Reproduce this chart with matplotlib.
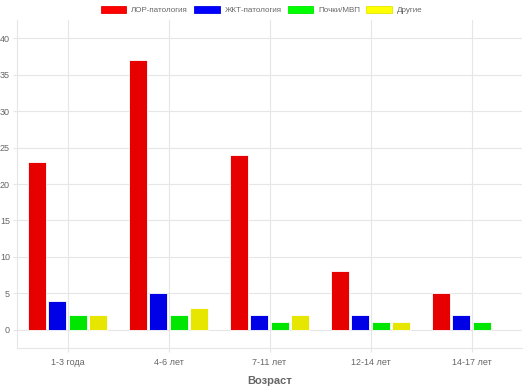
import numpy as np
import matplotlib.pyplot as plt
from matplotlib.patches import Patch

plt.rcParams['font.family'] = ['Liberation Sans', 'DejaVu Sans']

ages = ['1-3 года', '4-6 лет', '7-11 лет', '12-14 лет', '14-17 лет']
series_names = ['ЛОР-патология', 'ЖКТ-патология', 'Почки/МВП', 'Другие']
lor = [23, 37, 24, 8, 5]
gkt = [4, 5, 2, 2, 2]
kidney = [2, 2, 1, 1, 1]
other = [2, 3, 2, 1, 0]

bar_colors = ['#e60000', '#0000e6', '#00e600', '#e6e600']
legend_colors = ['#ff0000', '#0000ff', '#00ff00', '#ffff00']
grid_c = '#e6e6e6'
text_c = '#666666'

fig = plt.figure(figsize=(5.23, 3.92), dpi=100)
ax = fig.add_axes([17 / 523, 44 / 392, 505 / 523, 328 / 392])

x = np.arange(len(ages))
step = 0.2
for i, vals in enumerate([lor, gkt, kidney, other]):
    lw = [0.6 if v > 0 else 0 for v in vals]
    ax.bar(x + (i - 1.5) * step, vals, width=0.18, color=bar_colors[i],
           edgecolor='white', linewidth=lw, zorder=3)

ax.set_xlim(-0.5, 4.5)
ax.set_ylim(-2.5, 42.5)
ax.set_yticks(range(0, 41, 5))
ax.set_xticks(x)
ax.set_xticklabels(ages)
ax.grid(True, color=grid_c, linewidth=0.8, zorder=0)
for s in ['top', 'right']:
    ax.spines[s].set_visible(False)
for s in ['left', 'bottom']:
    ax.spines[s].set_color(grid_c)
    ax.spines[s].set_linewidth(0.8)
ax.tick_params(axis='both', colors=grid_c, labelcolor=text_c, labelsize=6.5,
               length=3, width=0.8)
ax.tick_params(axis='y', pad=2)
ax.tick_params(axis='x', pad=4)
ax.set_xlabel('Возраст', color=text_c, fontsize=8, fontweight='bold', labelpad=7)

handles = [Patch(facecolor=legend_colors[i], edgecolor=bar_colors[i], linewidth=0.6)
           for i in range(4)]
fig.legend(handles, series_names, loc='upper center', bbox_to_anchor=(0.5, 1.0),
           ncol=4, frameon=False, fontsize=5.8, handlelength=3.2, handleheight=1.0,
           handletextpad=0.6, columnspacing=0.75, labelcolor=text_c, borderaxespad=0.3)

fig.savefig('out.png', dpi=100)
